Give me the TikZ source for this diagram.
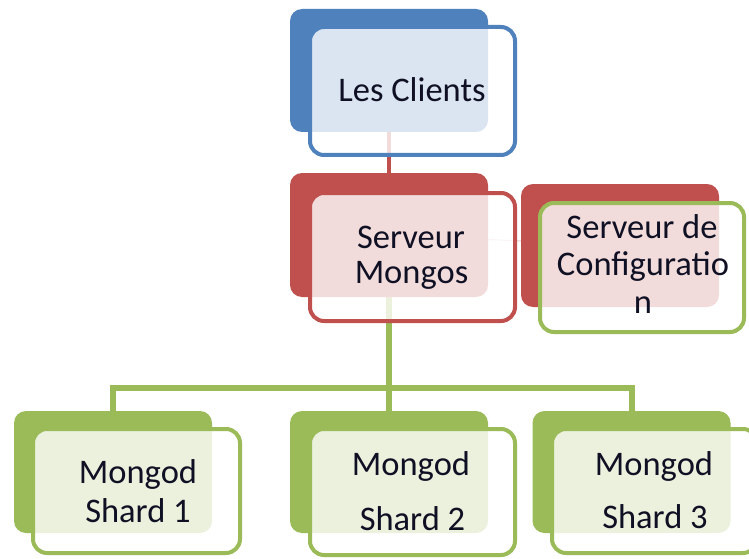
\documentclass[tikz,border=0pt]{standalone}
\usepackage{fontspec}
\setmainfont{Carlito}
\definecolor{oblue}{HTML}{4F81BD}
\definecolor{ored}{HTML}{C0504D}
\definecolor{ogreen}{HTML}{9BBB59}
\definecolor{otext}{HTML}{101024}
\pgfdeclarelayer{bg}
\pgfsetlayers{bg,main}
\begin{document}
\begin{tikzpicture}[x=1pt,y=1pt,
  backbox/.style={rectangle, rounded corners=12pt, fill=#1, draw=none, inner sep=0pt, outer sep=0pt, minimum width=198pt, minimum height=123pt},
  frontbox/.style={rectangle, rounded corners=14pt, draw=#1, line width=4pt, fill=white, fill opacity=0.8, draw opacity=1, inner sep=0pt, outer sep=0pt, minimum width=205pt, minimum height=128pt},
  txt/.style={font=\fontsize{34.5}{40}\selectfont, text=otext, inner sep=0pt, anchor=base},
  treeline/.style={draw=ogreen, line width=6pt},
  redlink/.style={draw=ored, line width=3.5pt},
  faintlink/.style={draw=ored!30, line width=1pt}]
\useasboundingbox (0,0) rectangle (749,558);
% back boxes
\node[backbox=oblue] (cb) at (389,487.5) {};
\node[backbox=ored, minimum height=124pt] (mb) at (389,323) {};
\node[backbox=ored] (fb) at (620,312.5) {};
\node[backbox=ogreen, minimum height=122pt] (s1b) at (113,86) {};
\node[backbox=ogreen, minimum height=122pt] (s2b) at (389,86) {};
\node[backbox=ogreen, minimum height=122pt] (s3b) at (631.5,86) {};
% connectors (behind)
\coordinate (bus) at (389,170);
\begin{pgfonlayer}{bg}
\draw[redlink] (cb) -- (mb);
\draw[faintlink] (mb) -- (fb);
\draw[treeline] (mb) -- (s2b);
\draw[treeline] (s1b) |- (bus);
\draw[treeline] (s3b) |- (bus);
\end{pgfonlayer}
% front boxes
\node[frontbox=oblue] (cf) at (412.5,467) {};
\node[frontbox=ored] (mf) at (412.5,301) {};
\node[frontbox=ogreen, minimum width=204pt, minimum height=129pt] (ff) at (642,290.5) {};
\node[frontbox=ogreen, minimum width=207pt, minimum height=124pt] (s1f) at (136.5,67) {};
\node[frontbox=ogreen, minimum height=126pt] (s2f) at (412.5,66) {};
\node[frontbox=ogreen, minimum height=124pt] (s3f) at (654.5,67) {};
% texts
\node[txt] (t1) at (412,456) {Les Clients};
\node[txt] (t2a) at (411,310) {Serveur};
\node[txt] (t2b) at (411.5,275) {Mongos};
\node[txt] (t3a) at (642,320) {Serveur de};
\node[txt] (t3b) at (643,283) {Configuratio};
\node[txt] (t3c) at (643,245) {n};
\node[txt] (t4a) at (138,75) {Mongod};
\node[txt] (t4b) at (138,36) {Shard 1};
\node[txt] (t5a) at (411,83) {Mongod};
\node[txt] (t5b) at (412.5,28) {Shard 2};
\node[txt] (t6a) at (654,83) {Mongod};
\node[txt] (t6b) at (655,30) {Shard 3};
\end{tikzpicture}
\end{document}
